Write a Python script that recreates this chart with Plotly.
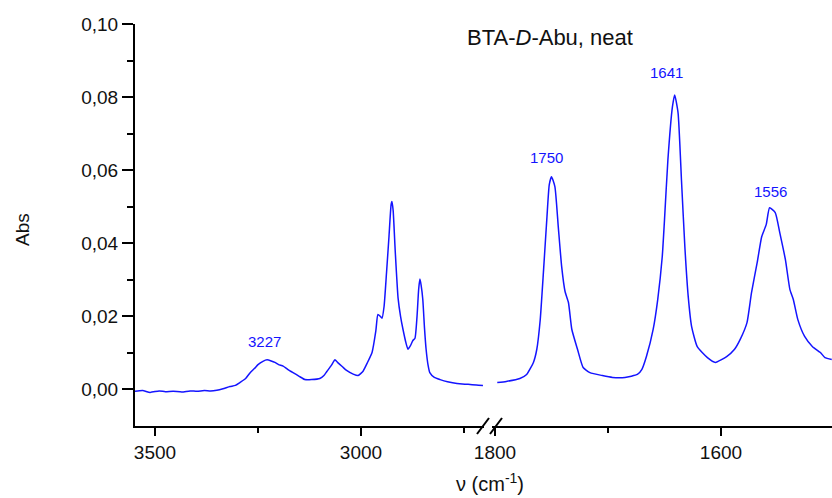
import plotly.graph_objects as go

# ---- data ----
wn_high = [3549, 3530, 3512, 3490, 3475, 3456, 3435, 3415, 3398, 3380, 3365, 3350, 3335,
           3318, 3305, 3294, 3280, 3269, 3258, 3250, 3238, 3228, 3218, 3209, 3200, 3189,
           3178, 3165, 3150, 3136, 3120, 3100, 3090, 3083, 3072, 3063, 3055, 3045, 3035,
           3019, 3007, 2995, 2985, 2973, 2964, 2959, 2953, 2949, 2944, 2938, 2932, 2927,
           2925, 2922, 2917, 2910, 2904, 2898, 2891, 2886, 2880, 2874, 2869, 2864, 2860,
           2857, 2854, 2850, 2846, 2842, 2837, 2833, 2822, 2808, 2790, 2767, 2740, 2720, 2704]
abs_high = [-0.0005, -0.0003, -0.0008, -0.0004, -0.0006, -0.0005, -0.0007, -0.0004, -0.0005,
            -0.0003, -0.0004, -0.0002, 0.0002, 0.0008, 0.0011, 0.0019, 0.0030, 0.0046, 0.0058,
            0.0068, 0.0077, 0.0081, 0.0078, 0.0074, 0.0068, 0.0064, 0.0055, 0.0046, 0.0036,
            0.0027, 0.0027, 0.0030, 0.0038, 0.0049, 0.0066, 0.0081, 0.0072, 0.0062, 0.0052,
            0.0042, 0.0038, 0.0050, 0.0072, 0.0102, 0.0160, 0.0205, 0.0200, 0.0195, 0.0227,
            0.0320, 0.0420, 0.0505, 0.0514, 0.0490, 0.0380, 0.0250, 0.0200, 0.0164, 0.0128,
            0.0110, 0.0120, 0.0134, 0.0140, 0.0200, 0.0275, 0.0302, 0.0285, 0.0246, 0.0170,
            0.0110, 0.0065, 0.0046, 0.0033, 0.0027, 0.0021, 0.0016, 0.0014, 0.0012, 0.0011]

wn_low = [1798, 1790, 1778, 1772, 1766, 1763, 1760, 1757, 1754, 1752, 1750, 1747, 1744, 1741,
          1738, 1735, 1732, 1727, 1722, 1716, 1705, 1696, 1685, 1674, 1670, 1666, 1660, 1656,
          1652, 1650, 1647, 1643, 1641, 1638, 1635, 1632, 1629, 1626, 1621, 1612, 1605, 1595,
          1588, 1583, 1577, 1573, 1568, 1564, 1560, 1557, 1552, 1548, 1543, 1539, 1536, 1532,
          1526, 1519, 1512, 1508, 1502]
abs_low = [0.0019, 0.0022, 0.0030, 0.0041, 0.0074, 0.0110, 0.0190, 0.0328, 0.0473, 0.0560,
           0.0582, 0.0555, 0.0445, 0.0336, 0.0268, 0.0238, 0.0164, 0.0110, 0.0060, 0.0046,
           0.0038, 0.0033, 0.0033, 0.0041, 0.0055, 0.0090, 0.0165, 0.0246, 0.0363, 0.0464,
           0.0628, 0.0773, 0.0806, 0.0757, 0.0574, 0.0391, 0.0254, 0.0172, 0.0117, 0.0087,
           0.0074, 0.0090, 0.0110, 0.0137, 0.0183, 0.0265, 0.0347, 0.0418, 0.0451, 0.0497,
           0.0484, 0.0429, 0.0355, 0.0273, 0.0246, 0.0191, 0.0145, 0.0117, 0.0101, 0.0087,
           0.0082]

peak_wn = [3227, 1750, 1641, 1556]
peak_abs = [0.0081, 0.0582, 0.0806, 0.0497]
peak_text = ["3227", "1750", "1641", "1556"]

y_tick_vals = [0.00, 0.02, 0.04, 0.06, 0.08, 0.10]
y_tick_text = ["0,00", "0,02", "0,04", "0,06", "0,08", "0,10"]
x1_tick_vals = [3500, 3000]
x1_tick_text = ["3500", "3000"]
x2_tick_vals = [1800, 1600]
x2_tick_text = ["1800", "1600"]

title_text = "BTA-<i>D</i>-Abu, neat"

# ---- figure (page pixel targets; body margin removed by post_script) ----
PAGE_W, PAGE_H = 832, 498
LEFT, RIGHT, TOP, BOTTOM = 135, 832, 24, 426   # plot area in page pixels
W, H = PAGE_W, PAGE_H
ML, MT = LEFT, TOP
MR, MB = PAGE_W - RIGHT, PAGE_H - BOTTOM
pw = RIGHT - LEFT
ph = BOTTOM - TOP
brk_px = 490
d = (brk_px - LEFT) / pw


def px_x(p):
    return (p - LEFT) / pw


def px_y(p):
    return (BOTTOM - p) / ph


BLUE = "rgb(20,20,255)"
FONT = "Liberation Sans, Arial, sans-serif"

fig = go.Figure()
fig.add_trace(go.Scatter(x=wn_high, y=abs_high, mode="lines", xaxis="x", yaxis="y",
                         line=dict(color=BLUE, width=1.5, shape="spline", smoothing=0.5),
                         showlegend=False, hoverinfo="skip"))
fig.add_trace(go.Scatter(x=wn_low, y=abs_low, mode="lines", xaxis="x2", yaxis="y",
                         line=dict(color=BLUE, width=1.5, shape="spline", smoothing=0.5),
                         showlegend=False, hoverinfo="skip"))

axis_common = dict(showline=True, linecolor="black", linewidth=2, showgrid=False,
                   zeroline=False, ticks="outside", tickcolor="black", tickwidth=2,
                   tickfont=dict(family=FONT, size=19, color="#111"))

fig.update_layout(
    width=W, height=H,
    margin=dict(l=ML, r=MR, t=MT, b=MB, pad=0),
    paper_bgcolor="white", plot_bgcolor="white",
    xaxis=dict(domain=[0, d], range=[3500 + (155 - LEFT) / 0.412, 3000 - (brk_px - 361) / 0.412],
               tickmode="array", tickvals=x1_tick_vals, ticktext=x1_tick_text,
               ticklen=8, anchor="y",
               minor=dict(tickmode="array", tickvals=[3250, 2750], ticklen=5,
                          tickcolor="black", tickwidth=2, ticks="outside"),
               **axis_common),
    xaxis2=dict(domain=[d, 1], range=[1600 + (721 - brk_px) / 1.13, 1600 - (RIGHT - 721) / 1.13],
                tickmode="array", tickvals=x2_tick_vals, ticktext=x2_tick_text,
                ticklen=8, anchor="y",
                minor=dict(tickmode="array", tickvals=[1700], ticklen=5,
                           tickcolor="black", tickwidth=2, ticks="outside"),
                **axis_common),
    yaxis=dict(domain=[0, 1], range=[-0.01, 0.10], anchor="x",
               tickmode="array", tickvals=y_tick_vals, ticktext=y_tick_text,
               ticklen=11,
               minor=dict(tickmode="array", tickvals=[0.01, 0.03, 0.05, 0.07, 0.09],
                          ticklen=6, tickcolor="black", tickwidth=2, ticks="outside"),
               **axis_common),
)

annotations = []
shifts = [(-3, 8), (-5, 9), (-8, 12), (0, 6)]
axes_for = ["x", "x2", "x2", "x2"]
for wn, ab, txt, (xs, ys), ax in zip(peak_wn, peak_abs, peak_text, shifts, axes_for):
    annotations.append(dict(x=wn, y=ab, xref=ax, yref="y", text=txt, showarrow=False,
                            xanchor="center", yanchor="bottom", xshift=xs, yshift=ys,
                            font=dict(family=FONT, size=15, color=BLUE)))

annotations.append(dict(x=px_x(550), y=px_y(38), xref="paper", yref="paper",
                        text=title_text, showarrow=False, xanchor="center", yanchor="middle",
                        font=dict(family=FONT, size=22, color="#111")))
annotations.append(dict(x=px_x(490), y=px_y(482), xref="paper", yref="paper",
                        text="ν (cm<sup>-1</sup>)", showarrow=False, xanchor="center",
                        yanchor="middle", font=dict(family=FONT, size=20, color="#111")))
annotations.append(dict(x=px_x(22), y=px_y(230), xref="paper", yref="paper",
                        text="Abs", showarrow=False, textangle=-90, xanchor="center",
                        yanchor="middle", font=dict(family=FONT, size=19, color="#111")))
fig.update_layout(annotations=annotations)

shapes = [
    dict(type="rect", xref="paper", yref="paper", x0=px_x(484), x1=px_x(492),
         y0=px_y(429), y1=px_y(423), fillcolor="white", line=dict(width=0), layer="above"),
    dict(type="line", xref="paper", yref="paper", x0=px_x(477), y0=px_y(434),
         x1=px_x(489), y1=px_y(418), line=dict(color="black", width=2)),
    dict(type="line", xref="paper", yref="paper", x0=px_x(490), y0=px_y(434),
         x1=px_x(502), y1=px_y(418), line=dict(color="black", width=2)),
]
fig.update_layout(shapes=shapes)

fig.write_html(
    "out.html",
    config={"displayModeBar": False},
    post_script=("document.documentElement.style.overflow='hidden';"
                 "document.body.style.margin='0';"
                 "document.body.style.overflow='hidden';"),
)
